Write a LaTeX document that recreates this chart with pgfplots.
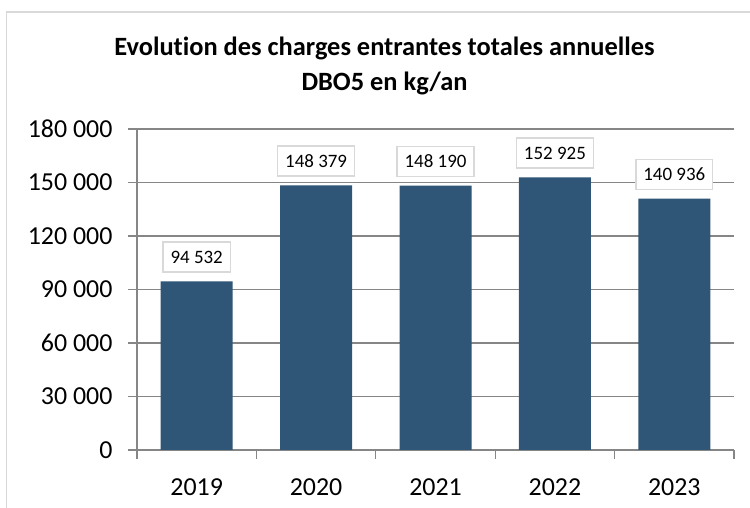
\documentclass[border=0pt]{standalone}
\usepackage{pgfplots}
\pgfplotsset{compat=1.18}
\usepackage{fontspec}
\setmainfont{Carlito}[Ligatures=NoCommon]
\definecolor{barblue}{RGB}{47,85,119}
\definecolor{gridgray}{RGB}{134,134,134}
\definecolor{boxgray}{RGB}{217,217,217}
\definecolor{framegray}{RGB}{217,217,217}
\begin{document}
\begin{tikzpicture}[x=1bp,y=1bp]
\useasboundingbox (0,0) rectangle (750,508);
\draw[framegray, line width=1.2bp] (6.5,-20) -- (6.5,496) -- (770,496);
\node[font=\fontsize{26.5}{31}\selectfont\bfseries, anchor=base] at (384.5,452) {Evolution des charges entrantes totales annuelles};
\node[font=\fontsize{26.5}{31}\selectfont\bfseries, anchor=base] at (384.5,417) {DBO5 en kg/an};
\begin{axis}[
  at={(137bp,58bp)}, anchor=south west,
  scale only axis, width=597bp, height=321bp,
  xmin=-0.5, xmax=4.5, ymin=0, ymax=180000,
  axis lines=left,
  axis line style={-, draw=gridgray, line width=1.2bp},
  ytick={0,30000,...,180000},
  scaled y ticks=false,
  /pgf/number format/fixed,
  /pgf/number format/precision=0,
  /pgf/number format/1000 sep={\ },
  /pgf/number format/assume math mode=true,
  ymajorgrids, grid style={draw=gridgray, line width=1.2bp},
  xtick={-0.5,0.5,1.5,2.5,3.5,4.5},
  x tick label as interval,
  xticklabels={2019,2020,2021,2022,2023},
  tick align=outside,
  major tick length=9bp,
  tick style={draw=gridgray, line width=1.2bp},
  tick label style={font=\fontsize{26}{31}\selectfont, text=black},
  yticklabel style={xshift=-12bp},
  xticklabel style={yshift=-16bp},
  ybar, bar width=72bp,
  point meta=explicit symbolic,
  nodes near coords,
  every node near coord/.append style={font=\fontsize{19}{22}\selectfont, draw=boxgray, line width=1.5bp, fill=white, minimum height=30bp, inner xsep=7.5bp, anchor=south, yshift=8.5bp, text=black},
]
\addplot[fill=barblue, draw=none] coordinates {
  (0,94532) [94 532]
  (1,148379) [148 379]
  (2,148190) [148 190]
  (3,152925) [152 925]
  (4,140936) [140 936]
};
\end{axis}
\end{tikzpicture}
\end{document}
